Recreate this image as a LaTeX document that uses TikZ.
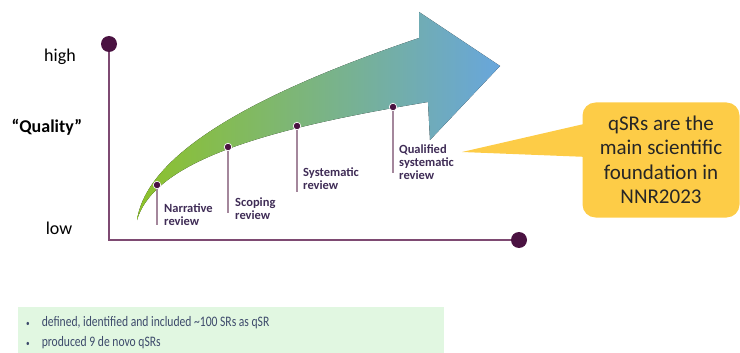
\documentclass[tikz,border=0pt]{standalone}
\usepackage{fontspec}
\setmainfont{Carlito}
\newfontfamily\narrowfont[FakeStretch=0.8]{Carlito}
\usetikzlibrary{positioning}

\definecolor{plum}{HTML}{4A1241}
\definecolor{axisline}{HTML}{7E4A72}
\definecolor{stemline}{HTML}{A4879C}
\definecolor{lbl}{HTML}{3F2C56}
\definecolor{leafgreen}{HTML}{8DC22A}
\definecolor{tealmid}{HTML}{6FAE9C}
\definecolor{skyblue}{HTML}{68A6DC}
\definecolor{callout}{HTML}{FDCC47}
\definecolor{mint}{HTML}{E1F7E1}
\definecolor{bullettext}{HTML}{3D4A6B}

\begin{document}
\begin{tikzpicture}[x=1pt, y=-1pt,
	bigdot/.style={circle, fill=plum, inner sep=0pt, minimum size=16pt},
	smalldot/.style={circle, fill=plum, draw=white, line width=0.7pt, inner sep=0pt, minimum size=7.5pt},
	axis/.style={draw=axisline, line width=2.3pt},
	stem/.style={draw=stemline, line width=1.4pt},
	kind/.style={anchor=north west, inner sep=1pt, align=left, text=lbl,
		font=\fontsize{12.5}{13}\selectfont\bfseries},
	level/.style={font=\fontsize{18}{20}\selectfont},
	claimbox/.style={fill=callout, rounded corners=13pt, minimum width=157pt,
		minimum height=115pt, align=center, text=black!85,
		font=\fontsize{21}{24.5}\selectfont},
	item/.style={anchor=west, inner sep=0pt, text=bullettext,
		font=\fontsize{14.5}{15}\narrowfont}]
	\useasboundingbox (0,0) rectangle (740,353);

	% axes
	\node[bigdot] (top) at (109,44) {};
	\node[bigdot] (far) at (519,240) {};
	\coordinate (origin) at (109,240);
	\draw[axis] (top) -- (origin) -- (far);

	\node[level] (high) at (60,57) {high};
	\node[level] (qual) at (47,127) {\bfseries “Quality”};
	\node[level] (low) at (59,228) {low};

	% curved arrow
	\fill[left color=leafgreen, middle color=tealmid, right color=skyblue]
		(137,220) .. controls (147,155) and (250,95) .. (419,38)
		-- (419,12) -- (500,66) -- (430,140) -- (428,102)
		.. controls (270,128) and (155,160) .. (137,220) -- cycle;

	% review types
	\node[smalldot] (nar) at (157,185) {};
	\coordinate (narend) at (157,225);
	\draw[stem] (nar) -- (narend);
	\node[kind] (narlbl) at (163,203) {Narrative\\review};

	\node[smalldot] (scp) at (228,147) {};
	\coordinate (scpend) at (228,213);
	\draw[stem] (scp) -- (scpend);
	\node[kind] (scplbl) at (234,197) {Scoping\\review};

	\node[smalldot] (sys) at (297,126) {};
	\coordinate (sysend) at (297,192);
	\draw[stem] (sys) -- (sysend);
	\node[kind] (syslbl) at (302,167) {Systematic\\review};

	\node[smalldot] (qsr) at (393,107) {};
	\coordinate (qsrend) at (393,173);
	\draw[stem] (qsr) -- (qsrend);
	\node[kind] (qsrlbl) at (398,144) {Qualified\\systematic\\review};

	% callout
	\node[claimbox] (claim) at (661,160) {qSRs are the\\main scientific\\foundation in\\NNR2023};
	\coordinate (tip) at (462,152);
	\fill[callout] (tip) -- ([xshift=6pt, yshift=37pt]claim.west)
		-- ([xshift=6pt, yshift=3pt]claim.west) -- cycle;

	% summary box
	\fill[mint] (18,307) rectangle (444,353);
	\node[item] (first) at (26,323) {{\small•}\hspace{12pt}defined, identified and included \textasciitilde100 SRs as qSR};
	\node[item] (second) at (26,343) {{\small•}\hspace{12pt}produced 9 de novo qSRs};
\end{tikzpicture}
\end{document}
